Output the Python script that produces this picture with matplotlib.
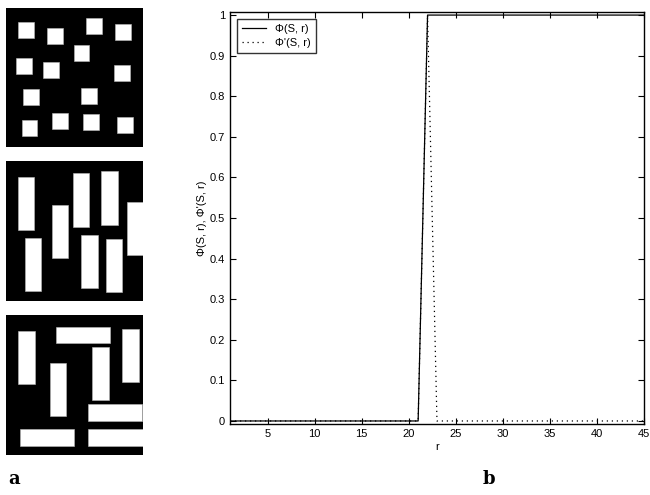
import numpy as np
import matplotlib
matplotlib.use("Agg")
import matplotlib.pyplot as plt
from matplotlib.patches import Rectangle

plt.rcParams['font.family'] = ['Liberation Sans', 'DejaVu Sans']

# panel a: white shapes on black, (x, y, w, h) in 0-100 panel units, y down
squares = [(9.0, 10.1), (30.1, 14.7), (58.7, 7.5), (79.6, 11.3), (49.3, 26.5),
           (7.5, 36.1), (27.2, 38.8), (78.9, 40.7), (12.6, 58.5), (54.9, 57.8),
           (11.4, 80.7), (33.7, 75.7), (56.1, 76.4), (81.1, 78.3)]
square_size = 11.5

bars_v = [(9.0, 11.4), (33.7, 31.4), (49.0, 8.8), (69.7, 7.4), (88.6, 29.0),
          (14.1, 54.9), (55.1, 52.5), (73.1, 55.8)]
bar_w, bar_h = 11.7, 38.0

mixed = [(9.0, 11.4, 12.1, 38.0), (36.2, 8.3, 39.6, 11.9), (84.9, 10.0, 12.1, 37.6),
         (62.9, 23.1, 12.1, 37.6), (31.8, 34.3, 12.1, 38.0), (59.5, 63.8, 39.6, 11.9),
         (10.2, 81.4, 39.3, 11.9), (60.2, 81.4, 41.0, 11.9)]

# panel b: step curves
r = np.arange(1, 46)
phi = (r >= 22).astype(float)
phi_prime = (r == 22).astype(float)

fig = plt.figure(figsize=(6.5, 4.95), dpi=100)


def shape_panel(rect, shapes):
    ax = fig.add_axes(rect)
    ax.set_facecolor('black')
    ax.set_xlim(0, 100)
    ax.set_ylim(100, 0)
    ax.set_xticks([])
    ax.set_yticks([])
    for s in ax.spines.values():
        s.set_visible(False)
    for (x, y, w, h) in shapes:
        ax.add_patch(Rectangle((x, y), w, h, facecolor='white', edgecolor='#bbbbbb', lw=0.4))
    return ax


shape_panel([0.0092, 0.7030, 0.2108, 0.2808],
            [(x, y, square_size, square_size) for x, y in squares])
shape_panel([0.0092, 0.3919, 0.2108, 0.2828],
            [(x, y, bar_w, bar_h) for x, y in bars_v])
shape_panel([0.0092, 0.0808, 0.2108, 0.2828], mixed)

ax = fig.add_axes([0.3538, 0.1434, 0.6369, 0.8323])
ax.plot(r, phi, '-', color='black', lw=0.9, label='Φ(S, r)')
ax.plot(r, phi_prime, color='black', lw=0.9, dashes=(1, 3), label="Φ'(S, r)")
ax.set_xlim(1, 45)
ax.set_ylim(-0.0075, 1.0075)
ax.set_xticks(np.arange(5, 46, 5))
ax.set_yticks(np.round(np.arange(0, 1.01, 0.1), 1))
ax.set_yticklabels(['0', '0.1', '0.2', '0.3', '0.4', '0.5', '0.6', '0.7', '0.8', '0.9', '1'])
ax.tick_params(direction='in', top=True, right=True, labelsize=8, length=4, width=0.8)
for s in ax.spines.values():
    s.set_linewidth(1.0)
ax.set_xlabel('r', fontsize=8, labelpad=2)
ax.set_ylabel("Φ(S, r), Φ'(S, r)", fontsize=8, labelpad=2)
leg = ax.legend(loc='upper left', fontsize=8, frameon=True, fancybox=False,
                handlelength=2.2, borderaxespad=0.6, borderpad=0.45, labelspacing=0.4)
leg.get_frame().set_edgecolor('black')
leg.get_frame().set_linewidth(1.0)

fig.text(0.012, 0.022, 'a', family='DejaVu Serif', fontweight='bold', fontsize=13)
fig.text(0.742, 0.022, 'b', family='DejaVu Serif', fontweight='bold', fontsize=13)

fig.savefig('out.png', dpi=100)
